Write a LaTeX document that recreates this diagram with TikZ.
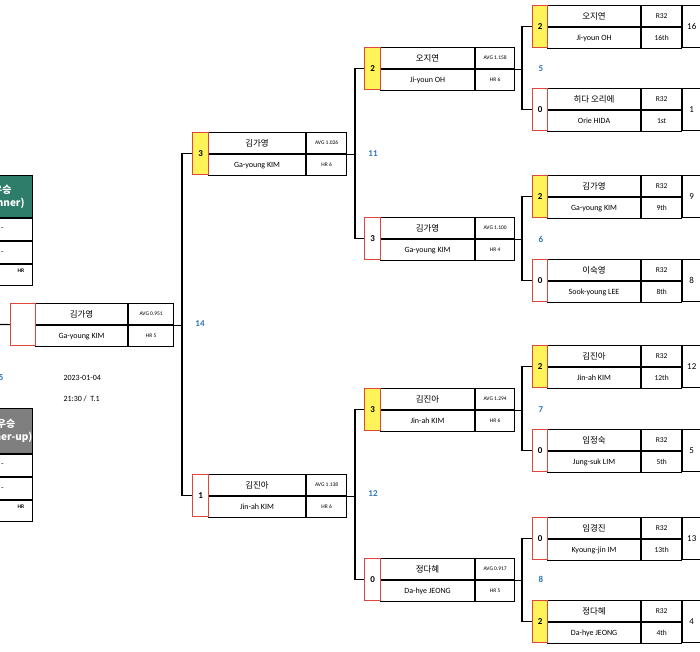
\documentclass[tikz,border=0pt]{standalone}
\usepackage{fontspec}
\setmainfont{Carlito}
\newfontfamily\kr{Noto Sans CJK KR}
\definecolor{yel}{HTML}{FFF35A}
\definecolor{redb}{HTML}{E0463C}
\definecolor{grn}{HTML}{2E7D6B}
\definecolor{gry}{HTML}{7F7F7F}
\definecolor{blu}{HTML}{2E75B6}
\tikzset{
 cell/.style={draw=black,line width=1.1pt,inner sep=0pt,anchor=north west,minimum height=21pt},
 sc/.style={draw=redb,line width=1.1pt,inner sep=0pt,anchor=north west,minimum height=42pt,font=\fontsize{9}{9}\selectfont\bfseries},
 nm/.style={font=\kr\fontsize{8.5}{9}\selectfont},
 en/.style={font=\fontsize{8}{9}\selectfont},
 sm/.style={font=\fontsize{5.5}{6}\selectfont},
 lab/.style={text=blu,font=\fontsize{9}{9}\selectfont\bfseries},
 wire/.style={line width=1.1pt},
 hdr/.style={draw=black,line width=1.1pt,anchor=north east,minimum width=60pt,inner sep=0pt,text=white,align=center,font=\kr\bfseries\fontsize{10}{13}\selectfont},
 row/.style={cell,anchor=north east,minimum width=60pt,minimum height=22pt,font=\fontsize{8}{9}\selectfont}
}
\newcommand\ws{16}\newcommand\wn{94}\newcommand\wa{39}
\newcommand\pl[9]{%
 \node[cell,nm,minimum width=\wn pt] (#1-k) at (#2+\ws,#3) {#6};
 \node[cell,en,minimum width=\wn pt] (#1-e) at (#1-k.south west) {#7};
 \node[cell,sm,minimum width=\wa pt] (#1-t) at (#1-k.north east) {#8};
 \node[cell,sm,minimum width=\wa pt] (#1-b) at (#1-t.south west) {#9};
 \node[sc,fill=#5,minimum width=\ws pt] (#1-s) at (#2,#3) {#4};
}
\begin{document}
\begin{tikzpicture}[x=1pt,y=-1pt]
\useasboundingbox (0,0) rectangle (700,651);
\clip (0,0) rectangle (700,651);
% R32
\renewcommand\ws{15}\renewcommand\wn{93}\renewcommand\wa{40}
\tikzset{sm/.style={font=\fontsize{7.5}{8}\selectfont}}
\pl{r1}{532}{5}{2}{yel}{오지연}{Ji-youn OH}{R32}{16th}
\pl{r2}{532}{88}{0}{white}{히다 오리에}{Orie HIDA}{R32}{1st}
\pl{r3}{532}{175}{2}{yel}{김가영}{Ga-young KIM}{R32}{9th}
\pl{r4}{532}{259}{0}{white}{이숙영}{Sook-young LEE}{R32}{8th}
\pl{r5}{532}{345}{2}{yel}{김진아}{Jin-ah KIM}{R32}{12th}
\pl{r6}{532}{429}{0}{white}{임정숙}{Jung-suk LIM}{R32}{5th}
\pl{r7}{532}{517}{0}{white}{임경진}{Kyoung-jin IM}{R32}{13th}
\pl{r8}{532}{600}{2}{yel}{정다혜}{Da-hye JEONG}{R32}{4th}
\foreach \n/\s in {r1/16,r2/1,r3/9,r4/8,r5/12,r6/5,r7/13,r8/4}
 \node[cell,en,font=\fontsize{9}{9}\selectfont,minimum width=18pt,minimum height=42pt] (\n-n) at (\n-t.north east) {\s};
% QF
\renewcommand\ws{16}\renewcommand\wn{94}\renewcommand\wa{39}
\tikzset{sm/.style={font=\fontsize{5.5}{6}\selectfont}}
\pl{q1}{364}{47}{2}{yel}{오지연}{Ji-youn OH}{AVG 1.158}{HR 6}
\pl{q2}{364}{217}{3}{white}{김가영}{Ga-young KIM}{AVG 1.100}{HR 4}
\pl{q3}{364}{388}{3}{yel}{김진아}{Jin-ah KIM}{AVG 1.294}{HR 6}
\pl{q4}{364}{558}{0}{white}{정다혜}{Da-hye JEONG}{AVG 0.917}{HR 5}
% SF
\renewcommand\wn{97}\renewcommand\wa{40}
\pl{s1}{192}{132}{3}{yel}{김가영}{Ga-young KIM}{AVG 1.026}{HR 6}
\pl{s2}{192}{474}{1}{white}{김진아}{Jin-ah KIM}{AVG 1.138}{HR 6}
% Final
\renewcommand\ws{25}\renewcommand\wn{92}\renewcommand\wa{45}
\pl{f}{10}{303}{}{white}{김가영}{Ga-young KIM}{AVG 0.951}{HR 5}
% connectors
\foreach \a/\b/\q in {r1/r2/q1,r3/r4/q2,r5/r6/q3,r7/r8/q4}{
 \draw[wire] (\a-s.west) -- ++(-10,0) coordinate (j) |- (\b-s.west);
 \draw[wire] (\q-t.south east) -- (\q-t.south east -| j);
}
\foreach \a/\b/\q in {q1/q2/s1,q3/q4/s2}{
 \draw[wire] (\a-s.west) -- ++(-9,0) coordinate (j) |- (\b-s.west);
 \draw[wire] (\q-t.south east) -- (\q-t.south east -| j);
}
\draw[wire] (s1-s.west) -- ++(-10,0) coordinate (j) |- (s2-s.west);
\draw[wire] (f-t.south east) -- (f-t.south east -| j);
\coordinate (fl) at (0,324.5);
\draw[wire] (f-s.west) -- (fl);
% labels
\node[lab] (m5) at (541,69) {5};
\node[lab] (m6) at (541,239) {6};
\node[lab] (m7) at (541,410) {7};
\node[lab] (m8) at (541,579) {8};
\node[lab] (m11) at (373,154) {11};
\node[lab] (m12) at (373,494) {12};
\node[lab] (m14) at (200,324) {14};
\node[lab,anchor=east] (m15) at (7,378) {15};
\node[en,anchor=west] (dt) at (60,378) {2023-01-04};
\node[en,anchor=west] (tm) at (60,399) {21:30 /\ \ T.1};
% winner panel
\node[hdr,fill=grn,minimum height=42pt] (wh) at (33,175) {우승\\(Winner)};
\node[row] (w1) at (wh.south east) {-};
\node[row] (w2) at (w1.south east) {-};
\node[row,minimum height=21pt] (w3) at (w2.south east) {};
\node[font=\fontsize{5.5}{6}\selectfont\bfseries] (w3t) at (21,271) {HR};
\node[hdr,fill=gry,minimum height=45pt,minimum width=56pt] (rh) at (33,408) {준우승\\(Runner-up)};
\node[row] (u1) at (rh.south east) {-};
\node[row] (u2) at (u1.south east) {-};
\node[row,minimum height=21pt] (u3) at (u2.south east) {};
\node[font=\fontsize{5.5}{6}\selectfont\bfseries] (u3t) at (21,507) {HR};
\end{tikzpicture}
\end{document}
